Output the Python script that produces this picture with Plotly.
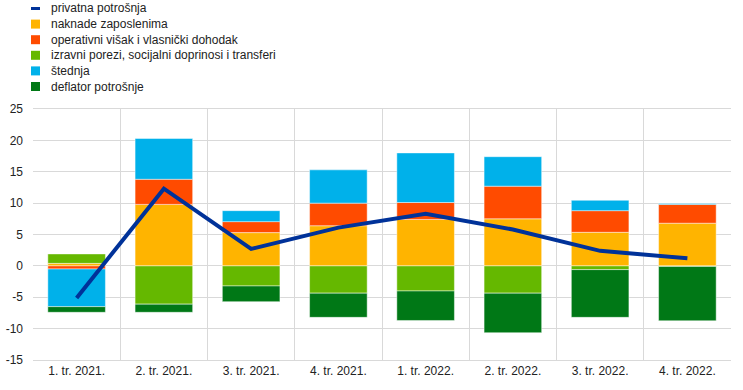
import plotly.graph_objects as go

categories = ["1. tr. 2021.", "2. tr. 2021.", "3. tr. 2021.", "4. tr. 2021.",
              "1. tr. 2022.", "2. tr. 2022.", "3. tr. 2022.", "4. tr. 2022."]

privatna_potrosnja = [-5.1, 12.3, 2.7, 6.1, 8.3, 5.8, 2.4, 1.2]
naknade_zaposlenima = [0.4, 9.8, 5.3, 6.4, 7.4, 7.5, 5.35, 6.8]
operativni_visak = [-0.5, 4.0, 1.75, 3.6, 2.7, 5.2, 3.45, 3.0]
izravni_porezi = [1.5, -6.1, -3.2, -4.35, -4.0, -4.35, -0.6, -0.1]
stednja = [-6.0, 6.5, 1.75, 5.3, 7.9, 4.7, 1.65, 0.15]
deflator_potrosnje = [-0.9, -1.3, -2.5, -3.85, -4.7, -6.3, -7.6, -8.65]

tick_vals = [-15, -10, -5, 0, 5, 10, 15, 20, 25]
tick_text = ["-15", "-10", "-5", "0", "5", "10", "15", "20", "25"]

FONT = "Liberation Sans, Arial, sans-serif"
W, H = 743, 390
ML, MR, MT, MB = 33, 12, 109, 30
PW, PH = W - ML - MR, H - MT - MB

bar_series = [
    ("naknade zaposlenima", naknade_zaposlenima, "#FFB400"),
    ("operativni višak i vlasnički dohodak", operativni_visak, "#FF4B00"),
    ("izravni porezi, socijalni doprinosi i transferi", izravni_porezi, "#65B800"),
    ("štednja", stednja, "#00B1EA"),
    ("deflator potrošnje", deflator_potrosnje, "#007816"),
]
line_name, line_color = "privatna potrošnja", "#003299"

fig = go.Figure()
for name, vals, col in bar_series:
    fig.add_trace(go.Bar(x=categories, y=vals, name=name, showlegend=False,
                         marker=dict(color=col, line=dict(color="rgba(255,255,255,0.45)", width=1))))
fig.add_trace(go.Scatter(x=categories, y=privatna_potrosnja, name=line_name, showlegend=False,
                         mode="lines", line=dict(color=line_color, width=4)))


def px_x(p):
    return (p - ML) / PW


def px_y(p):
    return (H - MB - p) / PH


# manual legend (entries 15.6 px apart)
legend_items = [(line_name, line_color, "line")] + [(n, c, "box") for n, _, c in bar_series]
shapes = []
annotations = []
for i, (name, col, kind) in enumerate(legend_items):
    yc = 8.5 + i * 15.6
    half = 1.5 if kind == "line" else 4.5
    shapes.append(dict(type="rect", xref="paper", yref="paper", x0=px_x(31), x1=px_x(40),
                       y0=px_y(yc - half), y1=px_y(yc + half), fillcolor=col, line=dict(width=0)))
    annotations.append(dict(text=name, xref="paper", yref="paper", x=px_x(49), y=px_y(yc),
                            xanchor="left", yanchor="middle", showarrow=False,
                            font=dict(family=FONT, size=12, color="#222")))

fig.update_layout(
    width=W, height=H,
    margin=dict(l=ML, r=MR, t=MT, b=MB, autoexpand=False),
    barmode="relative", bargap=0.34,
    plot_bgcolor="white", paper_bgcolor="white",
    font=dict(family=FONT, size=12, color="#222"),
    showlegend=False,
    shapes=shapes, annotations=annotations,
)

fig.update_xaxes(type="category", categoryorder="array", categoryarray=categories,
                 tickson="boundaries", showgrid=True, gridcolor="#d9d9d9", gridwidth=1,
                 showline=True, linecolor="#d9d9d9", mirror=True, ticks="",
                 tickfont=dict(size=12), zeroline=False, tickangle=0)
fig.update_yaxes(range=[-15, 25], tickvals=tick_vals, ticktext=tick_text, showgrid=True,
                 gridcolor="#d9d9d9", gridwidth=1, zeroline=False, showline=False, ticks="",
                 tickfont=dict(size=12), ticklabelstandoff=9)

fig.write_html("out.html", config={"displayModeBar": False},
               post_script="document.body.style.margin='0px';")
